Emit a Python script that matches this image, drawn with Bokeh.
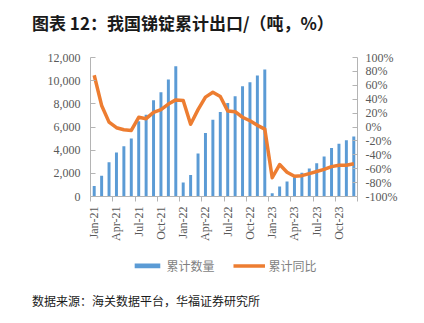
import math
from bokeh.plotting import figure
from bokeh.models import (Range1d, LinearAxis, FixedTicker, NumeralTickFormatter,
                          PrintfTickFormatter, Legend, LegendItem, ColumnDataSource, Div)
from bokeh.layouts import column
from bokeh.embed import file_html
from bokeh.resources import INLINE

# ---------------- data ----------------
month_abbr = ["Jan", "Feb", "Mar", "Apr", "May", "Jun",
              "Jul", "Aug", "Sep", "Oct", "Nov", "Dec"]
years = ["21", "22", "23"]
months = [f"{m}-{y}" for y in years for m in month_abbr]

volume = [900, 1800, 2950, 3800, 4330, 5000, 6500, 7050, 8300, 9000, 10100, 11250,
          1200, 1850, 3720, 5480, 6630, 7300, 8080, 8650, 9520, 9860, 10440, 10960,
          290, 870, 1300, 1670, 2050, 2420, 2860, 3460, 4180, 4560, 4850, 5190]

yoy = [74.5, 31, 7, -1, -4, -5, 14, 12, 21, 25, 33, 39,
       38, 4, 25, 43, 50, 44, 23, 22, 14, 9, 2.4, -3,
       -73, -54, -65, -71, -70, -67, -64, -61, -57, -55, -55, -53]

left_ticks = [0, 2000, 4000, 6000, 8000, 10000, 12000]
right_ticks = [-100, -80, -60, -40, -20, 0, 20, 40, 60, 80, 100]

title_text = "图表 12：我国锑锭累计出口/（吨，%）"
source_text = "数据来源：海关数据平台，华福证券研究所"
series_names = ["累计数量", "累计同比"]

BLUE = "#5b9bd5"
ORANGE = "#ed7d31"
AXIS = "#b4b4b4"
LABEL = "#595959"
RULE = "#7ea6d6"
CJK = "Noto Sans CJK SC"
SERIF = "Liberation Serif"
W = 424
BL, BR = 90, 67          # side borders so the frame spans x = 90..357


def rule_strip(top_margin):
    """A 2px strip painted in the rule colour (canvas fill)."""
    r = figure(width=396, height=2, margin=(top_margin, 6, 0, 22),
               x_range=Range1d(0, 1), y_range=Range1d(0, 1),
               output_backend="svg", toolbar_location=None, min_border=0,
               x_axis_type=None, y_axis_type=None)
    r.outline_line_color = None
    r.xgrid.visible = False
    r.ygrid.visible = False
    r.background_fill_color = RULE
    r.border_fill_color = RULE
    return r


# ---------------- header (title) ----------------
header = Div(width=W, height=39, margin=0,
             text=(f'<div style="position:relative;width:{W}px;height:39px;">'
                   f'<div style="position:absolute;left:32px;top:12px;white-space:nowrap;'
                   f'font-family:\'{CJK}\';font-size:17px;font-weight:bold;line-height:22px;'
                   f'color:#1a1a1a;">{title_text}</div></div>'))
rule_top = rule_strip(0)

# ---------------- main chart ----------------
idx = list(range(len(months)))
src = ColumnDataSource(dict(x=idx, vol=volume, yoy=yoy, m=months))

p = figure(width=W, height=209, x_range=Range1d(-0.5, len(months) - 0.5),
           y_range=Range1d(0, 12000), output_backend="svg", toolbar_location=None,
           min_border_left=BL, min_border_right=BR, min_border_top=16,
           min_border_bottom=54)
p.outline_line_color = None
p.xgrid.visible = False
p.ygrid.visible = False
p.extra_y_ranges = {"pct": Range1d(-100, 100)}

bars = p.vbar(x="x", top="vol", width=0.4, source=src, fill_color=BLUE, line_color=None)
line = p.line(x="x", y="yoy", source=src, y_range_name="pct",
              line_color=ORANGE, line_width=3.5, line_join="round")

xa = p.xaxis[0]
xa.ticker = FixedTicker(ticks=idx[::3],
                        minor_ticks=[i - 0.5 for i in idx[::3]] + [len(months) - 0.5])
xa.major_label_overrides = {i: months[i] for i in idx[::3]}
xa.major_label_orientation = math.pi / 2
xa.major_tick_line_color = None
xa.major_tick_out = 0
xa.major_tick_in = 0
xa.minor_tick_out = 5
xa.minor_tick_in = 0
xa.minor_tick_line_color = AXIS
xa.axis_line_color = AXIS
xa.major_label_standoff = 5
xa.major_label_text_font = SERIF
xa.major_label_text_font_size = "12px"
xa.major_label_text_color = LABEL

ya = p.yaxis[0]
ya.ticker = FixedTicker(ticks=left_ticks)
ya.formatter = NumeralTickFormatter(format="0,0")
ya.axis_line_color = AXIS
ya.major_tick_line_color = AXIS
ya.major_tick_in = 5
ya.major_tick_out = 0
ya.minor_tick_line_color = None
ya.major_label_standoff = 10
ya.major_label_text_font = SERIF
ya.major_label_text_font_size = "12px"
ya.major_label_text_color = LABEL

ra = LinearAxis(y_range_name="pct", ticker=FixedTicker(ticks=right_ticks),
                formatter=PrintfTickFormatter(format="%d%%"))
ra.axis_line_color = AXIS
ra.major_tick_line_color = AXIS
ra.major_tick_in = 5
ra.major_tick_out = 0
ra.minor_tick_line_color = None
ra.major_label_standoff = 8
ra.major_label_text_font = SERIF
ra.major_label_text_font_size = "12px"
ra.major_label_text_color = LABEL
p.add_layout(ra, "right")

# ---------------- legend strip ----------------
lg = figure(width=W, height=30, x_range=Range1d(0, 1), y_range=Range1d(0, 1),
            output_backend="svg", toolbar_location=None, min_border_left=BL,
            min_border_right=BR, min_border_top=0, min_border_bottom=0,
            x_axis_type=None, y_axis_type=None)
lg.outline_line_color = None
lg.xgrid.visible = False
lg.ygrid.visible = False
nan = float("nan")
lg_bar = lg.vbar(x=[nan], top=[nan], width=0.4, fill_color=BLUE, line_color=None)
lg_line = lg.line(x=[nan, nan], y=[nan, nan], line_color=ORANGE, line_width=3.5)
legend = Legend(items=[LegendItem(label=series_names[0], renderers=[lg_bar]),
                       LegendItem(label=series_names[1], renderers=[lg_line])],
                orientation="horizontal", location="center",
                glyph_width=32, glyph_height=6, label_standoff=4, spacing=18,
                label_text_font=CJK, label_text_font_size="12px",
                label_text_color="#7f7f7f", border_line_color=None,
                background_fill_alpha=0, margin=0, padding=4)
lg.add_layout(legend, "center")

# ---------------- footer (rule + source) ----------------
rule_bottom = rule_strip(11)
footer = Div(width=W, height=30, margin=0,
             text=(f'<div style="position:relative;width:{W}px;height:30px;">'
                   f'<div style="position:absolute;left:32px;top:0px;white-space:nowrap;'
                   f'font-family:\'{CJK}\';font-size:12px;line-height:16px;'
                   f'color:#1a1a1a;">{source_text}</div></div>'))

layout = column(header, rule_top, p, lg, rule_bottom, footer, spacing=0)
open("out.html", "w").write(file_html(layout, INLINE))
